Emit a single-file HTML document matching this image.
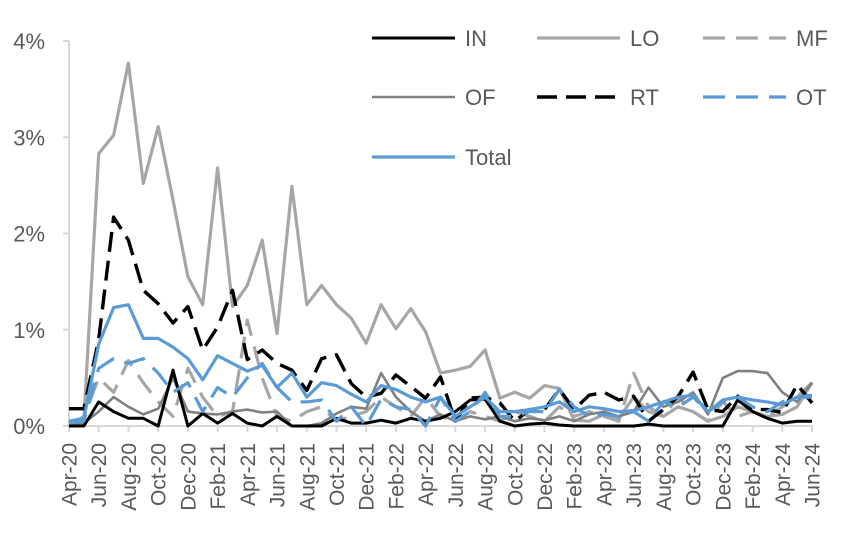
<!DOCTYPE html>
<html><head><meta charset="utf-8"><style>
body{margin:0;background:#fff;}
svg{display:block;font-family:"Liberation Sans",Arial,sans-serif;}
</style></head><body>
<svg id="c" width="852" height="534" viewBox="0 0 852 534" xmlns="http://www.w3.org/2000/svg">
<g stroke="#d9d9d9" stroke-width="2" fill="none" id="axes"></g>
<g id="series"></g>
<g id="labels" fill="#595959" font-size="21"></g>
<g id="legend" font-size="22" fill="#595959"></g>
</svg>
<script>
var X0=69,DX=14.86,Y0=426,S=96.25;
function x(i){return X0+DX*i;}function y(v){return Y0-S*v;}
var ns="http://www.w3.org/2000/svg";
function el(t,a,p,txt){var e=document.createElementNS(ns,t);for(var k in a)e.setAttribute(k,a[k]);if(txt)e.textContent=txt;document.getElementById(p).appendChild(e);return e;}
el('line',{x1:69,y1:41,x2:69,y2:427},'axes');
el('line',{x1:68,y1:426,x2:813,y2:426},'axes');
for(var k=0;k<=4;k++){el('line',{x1:63,y1:y(k),x2:69,y2:y(k)},'axes');
 el('text',{x:45,y:y(k)+8,'text-anchor':'end','font-size':22},'labels',k+'%');}
var mn=['Jan','Feb','Mar','Apr','May','Jun','Jul','Aug','Sep','Oct','Nov','Dec'];
for(var i=0;i<=50;i+=2){el('line',{x1:x(i),y1:426,x2:x(i),y2:432},'axes');
 var m=(3+i)%12,yr=20+Math.floor((3+i)/12);
 el('text',{x:0,y:0,'text-anchor':'end',transform:'translate('+(x(i)+7.5)+',443) rotate(-90)'},'labels',mn[m]+'-'+yr);}
var D={
LO:[0.03,0.06,2.83,3.02,3.77,2.52,3.11,2.35,1.55,1.26,2.68,1.24,1.46,1.93,0.96,2.49,1.26,1.46,1.26,1.12,0.86,1.26,1.01,1.22,0.98,0.55,0.58,0.62,0.79,0.29,0.35,0.29,0.42,0.39,0.06,0.05,0.12,0.08,0.3,0.15,0.1,0.2,0.15,0.05,0.1,0.2,0.15,0.1,0.12,0.2,0.45],
MF:[0,0.1,0.5,0.35,0.68,0.45,0.25,0.1,0.6,0.3,0.1,0.15,1.1,0.5,0.1,0.05,0.15,0.2,0.05,0.1,0.15,0.3,0.2,0.1,0.3,0.1,0.05,0.15,0.1,0.05,0.15,0.1,0.05,0.2,0.1,0.15,0.1,0.05,0.55,0.2,0.1,0.3,0.15,0.05,0.25,0.1,0.15,0.1,0.2,0.3,0.45],
OF:[0,0.03,0.15,0.3,0.2,0.12,0.18,0.5,0.15,0.13,0.12,0.15,0.17,0.14,0.15,0,0,0.03,0.13,0.2,0.18,0.55,0.3,0.15,0.05,0.12,0.05,0.1,0.07,0.1,0.05,0.08,0.06,0.1,0.05,0.12,0.15,0.1,0.15,0.4,0.2,0.25,0.35,0.12,0.5,0.57,0.57,0.55,0.35,0.25,0.45],
IN:[0,0,0.25,0.15,0.08,0.08,0,0.58,0,0.13,0.03,0.13,0.03,0,0.1,0,0,0,0.08,0.03,0.03,0.06,0.03,0.08,0.05,0.08,0.15,0.27,0.28,0.05,0,0.02,0.03,0.01,0,0,0,0,0,0.02,0,0,0,0,0,0.27,0.15,0.08,0.03,0.05,0.05],
RT:[0.18,0.18,0.9,2.17,1.93,1.41,1.27,1.07,1.24,0.79,1.03,1.41,0.69,0.79,0.65,0.58,0.37,0.7,0.74,0.44,0.3,0.34,0.53,0.41,0.29,0.51,0.05,0.29,0.3,0.24,0.05,0.17,0.17,0.38,0.17,0.32,0.35,0.27,0.31,0.05,0.17,0.31,0.56,0.17,0.15,0.31,0.17,0.17,0.14,0.43,0.24],
OT:[0.03,0.05,0.6,0.7,0.65,0.7,0.55,0.35,0.45,0.15,0.4,0.3,0.5,0.65,0.4,0.25,0.25,0.27,0.05,0.2,0,0.28,0.2,0.17,0,0.3,0.05,0.15,0.35,0.1,0.1,0.15,0.15,0.38,0.2,0.1,0.12,0.1,0.15,0.05,0.25,0.2,0.3,0.15,0.25,0.3,0.2,0.15,0.25,0.3,0.3],
Total:[0.05,0.08,0.85,1.23,1.26,0.91,0.91,0.82,0.7,0.48,0.73,0.65,0.57,0.63,0.4,0.55,0.3,0.45,0.42,0.33,0.25,0.42,0.38,0.3,0.25,0.3,0.1,0.2,0.3,0.15,0.15,0.17,0.2,0.25,0.15,0.2,0.18,0.15,0.16,0.2,0.25,0.3,0.32,0.15,0.27,0.3,0.27,0.25,0.22,0.3,0.32]};
var ST={
LO:{s:'#a6a6a6',w:3.2,d:''},MF:{s:'#a6a6a6',w:3.2,d:'22,11'},OF:{s:'#808080',w:2.6,d:''},
IN:{s:'#000',w:3,d:''},RT:{s:'#000',w:3.4,d:'20,9'},OT:{s:'#5b9bd5',w:3.2,d:'22,11'},Total:{s:'#5b9bd5',w:3.2,d:''}};
['LO','MF','OF','IN','RT','OT','Total'].forEach(function(k){
 var p=D[k].map(function(v,i){return (i?'L':'M')+x(i).toFixed(1)+','+y(v).toFixed(1);}).join('');
 var a={d:p,fill:'none',stroke:ST[k].s,'stroke-width':ST[k].w,'stroke-linejoin':'round'};
 if(ST[k].d)a['stroke-dasharray']=ST[k].d;el('path',a,'series');});
var L=[['IN',372,38],['LO',537,38],['MF',703,38],['OF',372,97],['RT',537,97],['OT',703,97],['Total',372,157]];
L.forEach(function(l){var s=ST[l[0]];var a={x1:l[1],y1:l[2],x2:l[1]+83,y2:l[2],stroke:s.s,'stroke-width':s.w};
 if(s.d)a['stroke-dasharray']=s.d;el('line',a,'legend');
 el('text',{x:l[1]+93,y:l[2]+8},'legend',l[0]);});
</script>
</body></html>
